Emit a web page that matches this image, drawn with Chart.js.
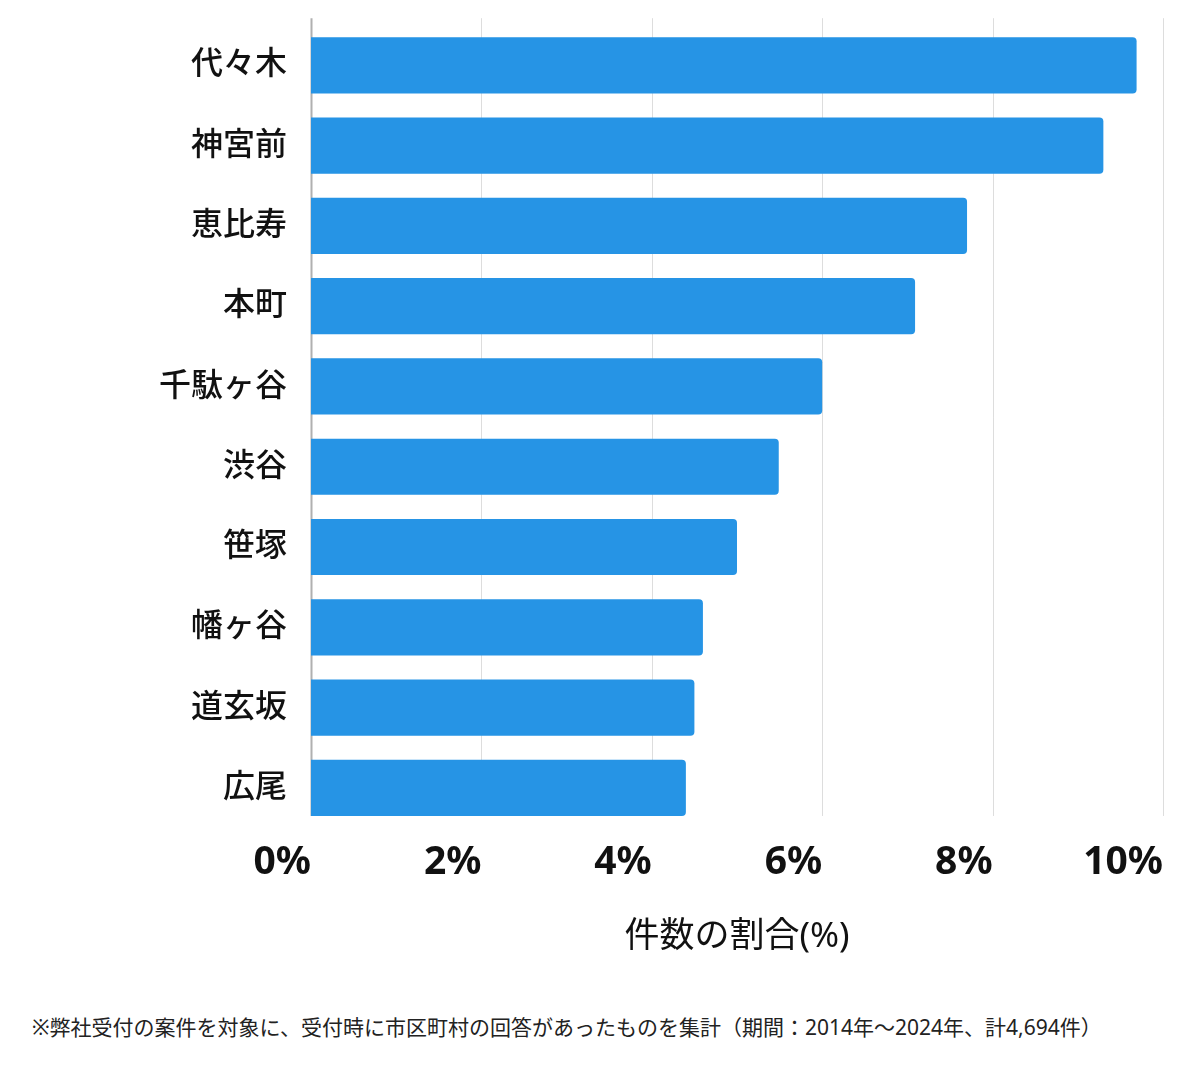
<!DOCTYPE html>
<html>
<head>
<meta charset="utf-8">
<script src="https://cdn.jsdelivr.net/npm/chart.js@4"></script>
<style>
  body { margin: 0; background: #fff; }
  #wrap { position: relative; top: -10px; width: 1200px; height: 990px; }
  #note { position: absolute; left: 32px; top: 1011px; font-family: "Noto Sans", "Noto Sans CJK JP", sans-serif; font-size: 21px; color: #222; white-space: nowrap; }
</style>
</head>
<body>
<div id="wrap"><canvas id="barChart"></canvas></div>
<div id="note">※弊社受付の案件を対象に、受付時に市区町村の回答があったものを集計（期間：2014年～2024年、計4,694件）</div>
<script>
// areas and share of cases (%)
const areaLabels = ['代々木', '神宮前', '恵比寿', '本町', '千駄ヶ谷', '渋谷', '笹塚', '幡ヶ谷', '道玄坂', '広尾'];
const shareValues = [9.69, 9.30, 7.70, 7.09, 6.00, 5.49, 5.00, 4.60, 4.50, 4.40];
const xTicks = [0, 2, 4, 6, 8, 10];

const fontJP = '"Noto Sans", "Noto Sans CJK JP", sans-serif';

// vertical grid lines and the left axis line, drawn from just above the plot to the bottom of the last bar
const gridPlugin = {
  id: 'gridLines',
  beforeDatasetsDraw(chart) {
    const c = chart.ctx;
    const xs = chart.scales.x;
    const bars = chart.getDatasetMeta(0).data;
    const last = bars[bars.length - 1];
    const top = chart.chartArea.top - 7;
    const bottom = last.y + last.height / 2;
    c.save();
    xTicks.forEach(v => {
      const px = Math.round(xs.getPixelForValue(v)) + 0.5;
      c.beginPath();
      c.strokeStyle = v === 0 ? '#b0b0b0' : '#dddddd';
      c.lineWidth = v === 0 ? 2 : 1;
      c.moveTo(px, top);
      c.lineTo(px, bottom);
      c.stroke();
    });
    c.restore();
  }
};

const ctx = document.getElementById('barChart').getContext('2d');
const chart = new Chart(ctx, {
  type: 'bar',
  data: {
    labels: areaLabels,
    datasets: [{
      label: '件数の割合',
      data: shareValues,
      backgroundColor: '#2694E5',
      borderRadius: 4,
      borderSkipped: 'start',
      categoryPercentage: 0.7,
      barPercentage: 1.0
    }]
  },
  options: {
    indexAxis: 'y',
    responsive: true,
    maintainAspectRatio: false,
    animation: false,
    layout: { padding: { top: 0, right: 37, left: 0, bottom: 0 } },
    plugins: { legend: { display: false }, tooltip: { enabled: false } },
    scales: {
      y: {
        grid: { display: false },
        border: { display: false },
        ticks: { color: '#111', padding: 16, font: { family: fontJP, size: 32, weight: '500' } },
        afterFit: function(scale) { scale.width = 311; }
      },
      x: {
        min: 0,
        max: 10,
        afterBuildTicks: function(scale) { scale.ticks = xTicks.map(v => ({ value: v })); },
        grid: { display: false },
        border: { display: false },
        ticks: {
          align: 'end',
          padding: 3,
          color: '#111',
          font: { family: fontJP, size: 39, weight: 'bold' },
          callback: v => v + '%'
        },
        title: {
          display: true,
          text: '件数の割合(%)',
          color: '#111',
          font: { family: fontJP, size: 35 },
          padding: { top: 0, bottom: 22 }
        },
        afterFit: function(scale) { scale.height = 152; }
      }
    }
  },
  plugins: [gridPlugin]
});
</script>
</body>
</html>
